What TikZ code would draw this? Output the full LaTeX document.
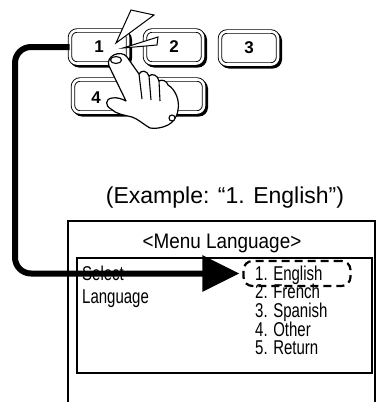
\documentclass[tikz,border=0pt]{standalone}
\usepackage{fontspec}
\setmainfont{Liberation Sans}
\newfontfamily\narrowfont{Liberation Sans}[FakeStretch=0.75]
\newfontfamily\titlefont{Liberation Sans}[FakeStretch=0.9]
\usetikzlibrary{calc,arrows.meta}

\tikzset{
  keybox/.style={draw, line width=0.9pt, double=white, double distance=2.6pt,
    rounded corners=7pt, fill=white, minimum width=58pt, minimum height=33pt,
    inner sep=0pt, font=\fontsize{17}{17}\selectfont\bfseries},
  keyshadow/.style={fill=black, rounded corners=9pt, minimum width=62pt,
    minimum height=37pt, inner sep=0pt},
  menuitem/.style={anchor=base west, inner sep=0pt,
    font=\narrowfont\fontsize{20}{20}\selectfont},
}

% one remote key: name, x, y, label
\newcommand{\drawkey}[4]{%
\node[keyshadow] (#1s) at ($(#2,#3)+(2,2)$) {};
\node[keybox] (#1) at (#2,#3) {#4};
}

\begin{document}
\begin{tikzpicture}[x=1pt,y=-1pt]
\useasboundingbox (0,0) rectangle (378,402);

% keypad
\drawkey{b1}{99}{47}{1}
\drawkey{b2}{174}{47}{2}
\drawkey{b3}{249}{48}{3}
\drawkey{b4}{102}{96}{}
\drawkey{b5}{175}{96}{}
\node[font=\fontsize{17}{17}\selectfont\bfseries] (b4num) at (96,98) {4};

% press flash
\draw[line width=1pt, fill=white] (116,43) -- (131,10) -- (154,15) -- cycle;
\draw[line width=1pt, fill=white] (123,48) -- (158,37) -- (157,45) -- cycle;

% hand
\draw[fill=white, line width=1.2pt, line join=round]
 (109,66) .. controls (105,56) and (121,49) .. (127,57)
 -- (139,74)
 .. controls (141,70) and (147,70) .. (149,76)
 .. controls (152,73) and (158,75) .. (159,81)
 .. controls (162,79) and (167,81) .. (168,85)
 .. controls (175,89) and (180,100) .. (178,110)
 .. controls (177,118) and (172,123) .. (168,125)
 .. controls (162,128) and (155,129) .. (150,128)
 .. controls (143,124) and (138,119) .. (132,117)
 .. controls (124,115) and (116,114) .. (111,109)
 .. controls (105,106) and (105,99) .. (112,98)
 .. controls (117,97) and (122,99) .. (126,101)
 -- cycle;
\draw[line width=1.1pt] (116,60) ellipse (5.5pt and 3.5pt);
\draw[line width=1.1pt] (139,74) -- (142,99);
\draw[line width=1.1pt] (149,76) -- (151,100);
\draw[line width=1.1pt] (159,81) -- (160,101);
\draw[line width=1.1pt, fill=white] (172,118) circle (3pt);

% caption
\node[anchor=base, inner sep=0pt, font=\fontsize{23}{23}\selectfont]
  (example) at (225,203) {(Example: “1. English”)};

% screen
\draw[line width=1.6pt] (68,402) |- (375,221) -- (375,402);
\node[anchor=base, inner sep=0pt, font=\titlefont\fontsize{21}{21}\selectfont]
  (title) at (222,248) {<Menu Language>};
\draw[line width=2.6pt] (77,258) rectangle (372,373);

\node[menuitem] (sel) at (82,280) {Select};
\node[menuitem] (lang) at (82,303) {Language};

\foreach \txt [count=\i] in {English, French, Spanish, Other, Return}
  \node[menuitem] (item\i) at (255,261.3+18.7*\i) {\i. \txt};

\node[draw, line width=2.2pt, dash pattern=on 8pt off 5pt, rounded corners=9pt,
  minimum width=107pt, minimum height=25pt] (pick) at (297,273.5) {};

% connector from key 1 to the chosen item
\coordinate (bend) at (15,160);
\draw[line width=6pt, rounded corners=16pt, shorten >=3pt,
  -{Triangle[length=37pt,width=35pt]}]
  (b1.west) -| (bend) |- (pick.west);

\end{tikzpicture}
\end{document}
